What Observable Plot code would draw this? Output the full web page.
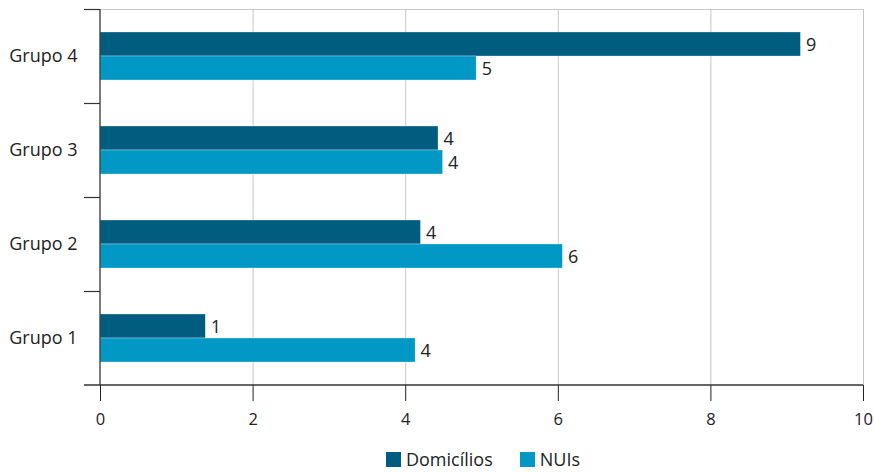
<!DOCTYPE html>
<html><head><meta charset="utf-8">
<script src="https://cdn.jsdelivr.net/npm/d3@7"></script>
<script src="https://cdn.jsdelivr.net/npm/@observablehq/plot@0.6"></script>
<style>
body{margin:0;background:#fff;font-family:"Open Sans",sans-serif;}
#legend{display:flex;justify-content:center;gap:27px;margin-left:103px;margin-right:11px;margin-top:9px;font-size:18px;line-height:24px;color:#222;}
.item{display:flex;align-items:center;gap:5px;}
.sw{width:15px;height:15px;display:inline-block;}
</style></head><body><div id="chart"></div><div id="legend"></div>
<script>
const groups = ["Grupo 4", "Grupo 3", "Grupo 2", "Grupo 1"];
const series = ["Domicílios", "NUIs"];
const domicilios = [9.18, 4.43, 4.20, 1.38];
const nuis = [4.93, 4.49, 6.06, 4.13];
const domLabels = ["9", "4", "4", "1"];
const nuiLabels = ["5", "4", "6", "4"];
const xTicks = [0, 2, 4, 6, 8, 10];
const colors = ["#015d80", "#0198c5"];

const data = groups.flatMap((g, i) => [
  {group: g, series: series[0], value: domicilios[i], label: domLabels[i]},
  {group: g, series: series[1], value: nuis[i], label: nuiLabels[i]}
]);

const chart = Plot.plot({
  width: 874, height: 438,
  marginTop: 8, marginRight: 11, marginBottom: 53, marginLeft: 100,
  style: {fontFamily: "Open Sans", fontSize: "16px", color: "#222", background: "#fff"},
  x: {domain: [0, 10], ticks: xTicks, tickSize: 16, tickPadding: 12, label: null},
  y: {domain: series, paddingInner: 0, paddingOuter: 0.925, axis: null},
  fy: {domain: groups, padding: 0, label: null, tickSize: 0, tickPadding: 23, axis: "left"},
  color: {domain: series, range: colors},
  facet: {data, y: "group"},
  marks: [
    Plot.gridX(xTicks.filter(d => d > 0), {stroke: "#c8c8c8", strokeOpacity: 1}),
    Plot.barX(data, {x: "value", y: "series", fill: "series", stroke: "#ffffff", strokeWidth: 0.6, strokeOpacity: 0.5}),
    Plot.text(data, {x: "value", y: "series", text: "label", textAnchor: "start", dx: 5, dy: 1, fill: "#222", fontSize: 18})
  ]
});
document.getElementById("chart").append(chart);

// label sizes on the axes
d3.select(chart).selectAll("[aria-label='fy-axis tick label'], [aria-label='fy-axis tick label'] text").style("font-size", "18px");
d3.select(chart).selectAll("[aria-label='x-axis tick label'], [aria-label='x-axis tick label'] text").style("font-size", "16.5px");

// frame lines and boundary ticks through the scales
const xs = chart.scale("x"), fys = chart.scale("fy");
const svg = d3.select(chart);
const xStart = xs.apply(0), xEnd = xs.apply(10);
const bounds = groups.map(g => fys.apply(g)).concat([fys.apply(groups[groups.length - 1]) + fys.bandwidth]);
const yTop = bounds[0], yBottom = bounds[bounds.length - 1];
const layer = svg.append("g");
layer.append("line").attr("x1", xStart).attr("x2", xEnd).attr("y1", yTop + 0.5).attr("y2", yTop + 0.5).attr("stroke", "#c8c8c8");
layer.append("line").attr("x1", xStart).attr("x2", xStart).attr("y1", yTop).attr("y2", yBottom).attr("stroke", "#333").attr("stroke-width", 1.3);
layer.append("line").attr("x1", xStart - 16).attr("x2", xEnd).attr("y1", yBottom).attr("y2", yBottom).attr("stroke", "#333").attr("stroke-width", 1.3);
bounds.slice(0, -1).forEach(b => {
  layer.append("line").attr("x1", xStart - 16).attr("x2", xStart).attr("y1", b + 0.5).attr("y2", b + 0.5).attr("stroke", "#333").attr("stroke-width", 1.2);
});

const legend = document.getElementById("legend");
series.forEach((s, i) => {
  const it = document.createElement("div"); it.className = "item";
  const sw = document.createElement("span"); sw.className = "sw"; sw.style.background = colors[i];
  const t = document.createElement("span"); t.textContent = s;
  it.append(sw, t); legend.append(it);
});
</script></body></html>
